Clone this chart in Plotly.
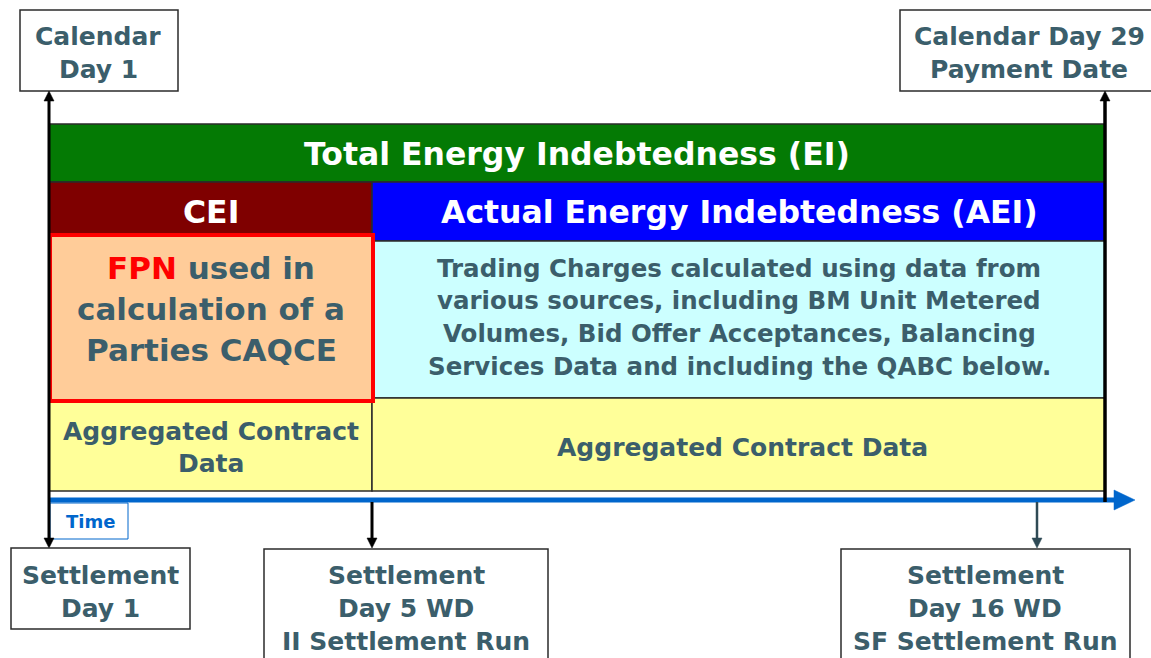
import plotly.graph_objects as go

# ---- content ----
top_left_label = ["Calendar", "Day 1"]
top_right_label = ["Calendar Day 29", "Payment Date"]
total_label = "Total Energy Indebtedness (EI)"
cei_label = "CEI"
aei_label = "Actual Energy Indebtedness (AEI)"
fpn_lines = ["<span style='color:#FF0000'>FPN</span> used in", "calculation of a", "Parties CAQCE"]
trading_lines = [
    "Trading Charges calculated using data from",
    "various sources, including BM Unit Metered",
    "Volumes, Bid Offer Acceptances, Balancing",
    "Services Data and including the QABC below.",
]
acd_left_lines = ["Aggregated Contract", "Data"]
acd_right_label = "Aggregated Contract Data"
time_label = "Time"
bottom_labels = [
    ["Settlement", "Day 1"],
    ["Settlement", "Day 5 WD", "II Settlement Run"],
    ["Settlement", "Day 16 WD", "SF Settlement Run"],
]

# ---- styles ----
SLATE = "#3B5E6B"
FONT = "DejaVu Sans"
W, H = 1151, 658

fig = go.Figure()
fig.add_trace(go.Scatter(x=[0], y=[0], mode="markers", marker=dict(opacity=0), hoverinfo="skip", showlegend=False))

shapes = []
annotations = []


def rect(x0, y0, x1, y1, fill, line="#2B2B2B", lw=1.5):
    shapes.append(dict(type="rect", xref="x", yref="y", x0=x0, y0=y0, x1=x1, y1=y1,
                       fillcolor=fill, line=dict(color=line, width=lw), layer="above"))


def line(x0, y0, x1, y1, color, lw):
    shapes.append(dict(type="line", xref="x", yref="y", x0=x0, y0=y0, x1=x1, y1=y1,
                       line=dict(color=color, width=lw), layer="above"))


def tri(pts, color):
    p = "M " + " L ".join(f"{a},{b}" for a, b in pts) + " Z"
    shapes.append(dict(type="path", xref="x", yref="y", path=p, fillcolor=color,
                       line=dict(color=color, width=0.5), layer="above"))


def text(x, y, s, size=25, color=SLATE):
    annotations.append(dict(x=x, y=y, xref="x", yref="y", text=f"<b>{s}</b>", showarrow=False,
                            xanchor="center", yanchor="middle",
                            font=dict(family=FONT, size=size, color=color)))


def lines_text(x, ys, items, size=25, color=SLATE):
    for yy, s in zip(ys, items):
        text(x, yy, s, size, color)


# top boxes
rect(20, 10, 178, 91, "white")
rect(900, 10, 1170, 91, "white")
lines_text(98, [36, 69], top_left_label)
lines_text(1029, [36, 69], top_right_label)

# main bars
rect(49, 124, 1105, 182, "#047A04")
text(577, 154, total_label, 31.5, "white")
rect(49, 182, 372, 241, "#7F0000")
text(211, 212, cei_label, 31.5, "white")
rect(372, 182, 1105, 241, "#0000FF")
text(739, 212, aei_label, 31.5, "white")
rect(372, 241, 1105, 398, "#CCFFFF")
lines_text(739, [268, 300, 333, 366], trading_lines, 24.5)
rect(49, 398, 372, 491, "#FFFF99")
rect(372, 398, 1105, 491, "#FFFF99")
lines_text(211, [431, 463], acd_left_lines, 25)
text(742, 447, acd_right_label, 25)
rect(50, 235, 373, 401, "#FFCC99", "#FF0000", 4)
lines_text(211, [268, 309, 350], fpn_lines, 31)

# time axis
line(49, 500, 1116, 500, "#0066CC", 5)
tri([(1114, 490), (1135, 500), (1114, 510)], "#0066CC")
rect(50, 503, 128, 539, "white", "#0066CC", 1)
text(90, 521, time_label, 18, "#0066CC")

# vertical arrows
line(49, 100, 49, 540, "black", 3)
tri([(44, 101), (54, 101), (49, 91)], "black")
tri([(44, 538), (54, 538), (49, 548)], "black")
line(1105, 100, 1105, 502, "black", 3.5)
tri([(1100, 101), (1110, 101), (1105, 91)], "black")
line(372, 502, 372, 540, "black", 3)
tri([(367, 538), (377, 538), (372, 548)], "black")
line(1037, 502, 1037, 540, "#2F4A55", 2.5)
tri([(1032, 538), (1042, 538), (1037, 548)], "#2F4A55")

# bottom boxes
rect(11, 548, 190, 629, "white")
rect(264, 549, 548, 680, "white")
rect(841, 549, 1130, 680, "white")
lines_text(100, [575, 608], bottom_labels[0])
lines_text(406, [575, 608, 641], bottom_labels[1])
lines_text(985, [575, 608, 641], bottom_labels[2])

fig.update_layout(
    width=W, height=H, margin=dict(l=0, r=0, t=0, b=0),
    paper_bgcolor="white", plot_bgcolor="white",
    xaxis=dict(range=[0, W], visible=False, fixedrange=True),
    yaxis=dict(range=[H, 0], visible=False, fixedrange=True),
    shapes=shapes, annotations=annotations, showlegend=False,
)
fig.write_html(
    "out.html",
    config={"displayModeBar": False},
    post_script="document.body.style.margin='0';document.body.style.overflow='hidden';",
)
